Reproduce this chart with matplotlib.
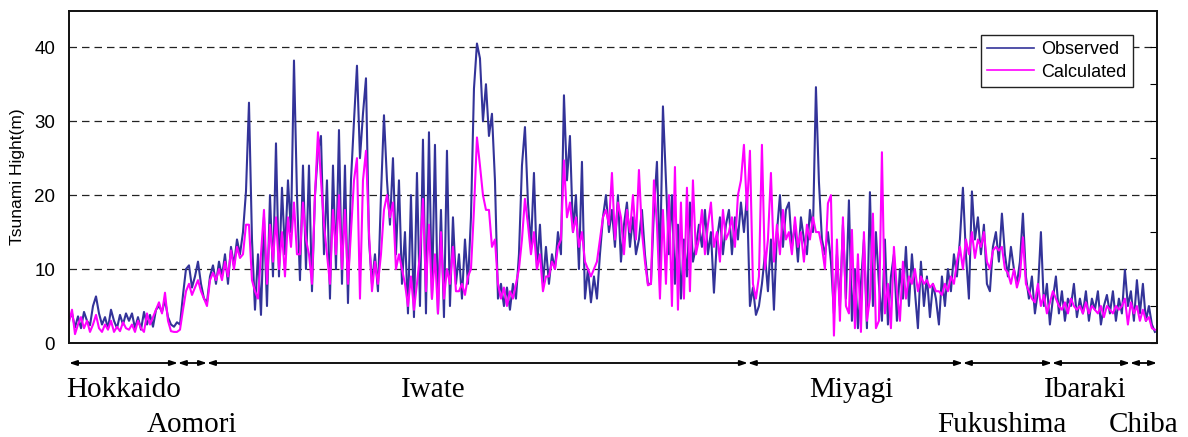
import matplotlib
matplotlib.use("Agg")
import matplotlib.pyplot as plt
import matplotlib.transforms as mtransforms
import numpy as np

# ---------------- data ----------------
observed = [
    3.2, 4.0, 2.1, 3.6, 2.0, 4.2, 3.0, 2.4, 5.0, 6.3,
    4.0, 2.5, 3.5, 2.0, 4.5, 3.0, 2.0, 3.8, 2.5, 4.0,
    3.0, 4.0, 2.0, 3.5, 1.8, 4.2, 2.5, 3.8, 2.2, 4.5,
    5.0, 4.2, 5.8, 3.5, 2.5, 2.2, 2.8, 2.5, 6.5, 10.0,
    10.5, 7.5, 9.0, 11.0, 8.0, 6.0, 5.5, 9.0, 10.5, 8.0,
    11.0, 9.0, 12.0, 8.0, 13.0, 10.5, 14.0, 12.0, 15.0, 20.5,
    32.5, 14.0, 4.5, 12.0, 3.8, 17.0, 5.0, 20.0, 9.0, 27.0,
    9.0, 21.0, 12.0, 22.0, 15.0, 38.2, 20.0, 8.5, 24.0, 10.0,
    24.0, 7.0, 20.0, 26.0, 28.0, 12.0, 22.0, 6.0, 24.0, 10.0,
    28.8, 8.0, 24.0, 5.4, 22.0, 30.0, 37.5, 25.0, 31.0, 35.8,
    14.0, 8.0, 12.0, 7.0, 20.0, 30.8, 22.0, 16.0, 25.0, 12.0,
    22.0, 8.0, 15.0, 4.0, 20.0, 3.5, 23.0, 5.0, 27.5, 4.0,
    28.5, 6.0, 26.8, 4.0, 18.0, 3.5, 26.0, 5.0, 17.0, 8.0,
    12.0, 6.0, 14.0, 8.0, 17.0, 34.4, 40.5, 38.5, 30.0, 35.0,
    28.0, 31.0, 22.0, 6.0, 8.0, 5.0, 7.5, 4.5, 8.0, 6.0,
    12.0, 24.0, 29.2, 19.0, 13.0, 23.0, 10.0, 16.0, 8.0, 13.0,
    8.0, 12.0, 10.0, 15.0, 12.0, 33.5, 22.0, 28.0, 15.0, 20.0,
    10.0, 24.5, 6.0, 10.0, 5.5, 9.0, 6.0, 12.0, 17.0, 20.0,
    15.0, 18.0, 13.0, 20.0, 11.0, 16.0, 19.0, 13.0, 17.0, 12.0,
    14.0, 18.0, 12.0, 8.0, 8.0, 18.0, 24.5, 10.0, 32.0, 22.0,
    12.0, 20.0, 8.0, 16.0, 6.0, 14.0, 9.0, 19.0, 11.0, 13.0,
    16.0, 13.0, 18.0, 12.0, 15.0, 6.8, 14.0, 17.0, 12.0, 16.0,
    18.0, 12.0, 17.0, 14.0, 19.0, 15.0, 20.0, 5.0, 7.5, 3.8,
    5.0, 8.0, 12.0, 7.0, 14.0, 4.5, 15.0, 20.0, 13.0, 18.0,
    19.0, 13.0, 16.0, 11.0, 17.0, 14.0, 12.0, 18.0, 15.0, 34.6,
    21.8, 14.0, 12.0, 15.0, 11.0, 4.0, 12.0, 5.0, 16.0, 6.0,
    19.3, 3.0, 10.0, 2.0, 8.0, 14.0, 2.0, 20.4, 5.0, 15.0,
    8.0, 3.0, 14.0, 2.5, 9.0, 12.0, 3.0, 10.0, 6.0, 13.0,
    5.0, 12.0, 7.0, 2.0, 11.0, 5.0, 9.0, 3.5, 8.0, 6.0,
    2.5, 9.0, 5.0, 10.0, 7.0, 12.0, 9.0, 14.0, 21.0, 12.0,
    6.0, 20.5, 14.0, 17.0, 12.0, 16.0, 8.0, 7.0, 13.0, 15.0,
    11.0, 17.5, 12.0, 9.0, 13.0, 10.0, 8.0, 11.0, 17.5, 9.0,
    6.0, 9.0, 4.0, 7.0, 15.0, 5.0, 8.0, 2.5, 6.0, 9.0,
    4.0, 7.0, 3.0, 6.0, 5.0, 8.0, 3.5, 6.0, 4.0, 7.0,
    3.0, 6.0, 4.5, 7.0, 2.5, 5.0, 6.5, 4.0, 7.0, 3.0,
    6.0, 4.0, 9.9, 5.0, 7.0, 3.0, 8.5, 4.0, 8.0, 3.0,
    5.0, 2.5, 1.5,
]

calculated = [
    2.8, 4.5, 1.2, 2.5, 3.5, 2.0, 3.0, 1.5, 2.5, 3.8,
    2.0, 1.5, 2.5, 1.8, 3.0, 1.5, 2.2, 1.6, 2.8, 2.0,
    1.8, 2.5, 1.5, 3.0, 2.0, 1.5, 4.0, 2.5, 3.5, 4.5,
    5.5, 4.0, 6.8, 3.0, 1.6, 1.5, 1.5, 1.8, 4.5, 7.0,
    8.0, 6.5, 7.5, 8.5, 7.0, 6.0, 5.0, 8.5, 9.5, 8.5,
    10.0, 8.5, 11.0, 9.0, 12.5, 10.0, 13.0, 11.5, 12.0, 16.0,
    16.0, 8.5, 7.0, 6.0, 12.0, 18.0, 8.0, 16.0, 11.0, 17.0,
    10.0, 15.0, 9.0, 17.0, 13.0, 19.0, 12.0, 12.0, 19.0, 14.0,
    12.0, 8.0, 20.0, 28.5, 22.0, 16.0, 12.0, 8.0, 18.0, 12.0,
    20.0, 10.0, 18.0, 8.0, 15.0, 22.0, 25.0, 6.0, 22.0, 26.0,
    15.0, 7.0, 11.0, 8.0, 12.0, 18.0, 20.0, 17.0, 19.0, 10.0,
    12.0, 10.0, 8.0, 5.0, 9.0, 4.5, 8.0, 12.0, 19.5, 7.0,
    16.0, 6.0, 12.0, 4.0, 15.0, 6.0, 10.0, 8.0, 13.0, 7.0,
    7.0, 8.0, 6.5, 9.0, 10.0, 18.0, 27.8, 24.0, 20.0, 18.0,
    18.0, 13.0, 14.0, 8.0, 6.0, 7.5, 5.0, 7.0, 6.0, 8.0,
    10.0, 14.0, 19.5, 16.0, 12.0, 15.0, 10.0, 12.0, 7.0, 9.0,
    9.0, 11.0, 10.0, 13.0, 14.0, 24.7, 17.0, 19.0, 15.0, 17.0,
    13.0, 15.0, 11.0, 10.0, 9.0, 10.0, 11.0, 14.0, 17.0, 18.0,
    16.0, 23.0, 14.0, 19.0, 17.0, 12.0, 18.0, 15.0, 20.0, 14.0,
    23.4, 15.0, 11.0, 7.8, 8.0, 22.0, 16.0, 6.0, 18.0, 8.0,
    20.0, 5.0, 23.8, 4.5, 19.0, 6.0, 21.0, 7.0, 22.0, 12.0,
    14.0, 18.0, 12.0, 16.0, 19.0, 13.0, 15.0, 11.0, 18.0, 14.0,
    15.0, 17.0, 13.0, 20.0, 22.0, 26.8, 18.0, 26.0, 8.0, 6.0,
    9.0, 26.8, 10.0, 14.0, 23.0, 11.0, 16.0, 12.0, 18.0, 14.0,
    15.0, 12.0, 17.0, 13.0, 15.0, 11.0, 16.0, 14.0, 17.0, 15.0,
    15.0, 13.0, 10.0, 18.9, 20.0, 1.0, 14.0, 3.0, 17.0, 5.0,
    4.0, 15.3, 2.0, 12.0, 1.5, 15.0, 3.0, 6.0, 17.5, 2.0,
    3.0, 25.8, 4.0, 8.0, 2.0, 13.0, 7.0, 3.0, 11.0, 6.0,
    9.0, 8.0, 10.0, 7.0, 9.0, 8.0, 8.5, 7.5, 8.0, 7.0,
    7.0, 6.5, 8.0, 7.0, 9.0, 8.0, 11.0, 13.0, 10.0, 14.0,
    12.0, 15.0, 11.5, 14.0, 13.0, 15.0, 11.0, 10.0, 12.5, 13.0,
    12.5, 13.0, 10.0, 9.5, 8.0, 10.0, 7.5, 9.0, 14.3, 8.0,
    7.0, 6.0, 5.5, 8.0, 5.0, 6.5, 4.0, 5.5, 7.0, 6.0,
    5.0, 4.5, 5.5, 4.0, 6.0, 5.0, 4.5, 5.0, 4.0, 5.5,
    4.0, 5.0, 4.5, 4.0, 5.0, 3.5, 5.0, 4.5, 4.0, 5.0,
    4.5, 5.0, 6.0, 2.5, 5.5, 4.0, 5.0, 3.0, 4.5, 3.0,
    3.5, 2.0, 1.8,
]

series_names = ["Observed", "Calculated"]
series_colors = ["#333399", "#FF00FF"]

# prefecture boundaries (in sample-index units) and names
region_names = ["Hokkaido", "Aomori", "Iwate", "Miyagi", "Fukushima", "Ibaraki", "Chiba"]
region_bounds = [0, 36.3, 46.0, 226.3, 298.0, 327.7, 353.7, 362.7]
region_row = [0, 1, 0, 0, 1, 0, 1]          # upper / lower label row
region_label_shift = [0, 0, -14.7, -1.3, -2, -2, 0]   # layout tweak of label centre

y_ticks = [0, 10, 20, 30, 40]

# ---------------- figure ----------------
W, H, DPI = 1188, 437, 100
fig = plt.figure(figsize=(W / DPI, H / DPI), dpi=DPI)
ax = fig.add_axes([69 / W, 1 - 343 / H, (1157 - 69) / W, (343 - 11) / H])

x = np.arange(len(observed))
for vals, name, col in zip([observed, calculated], series_names, series_colors):
    ax.plot(x, vals, color=col, lw=1.5, label=name)

ax.set_xlim(0, region_bounds[-1])
ax.set_ylim(0, 44.9)
ax.set_yticks(y_ticks)
ax.set_yticks([5, 15, 25, 35], minor=True)
ax.set_xticks([])
for t in y_ticks[1:]:
    ax.axhline(t, color="#222222", lw=0.9, ls=(0, (6, 4)), zorder=0.5)

ax.tick_params(axis="y", which="both", left=False, right=True, direction="in",
               length=5, width=0.8, labelleft=True, pad=10, labelsize=13.5)
for lab in ax.get_yticklabels():
    lab.set_fontfamily("Liberation Sans")
for sp in ax.spines.values():
    sp.set_linewidth(1.4)
    sp.set_color("#111111")

ax.set_ylabel("Tsunami Hight(m)", fontsize=12.5, family="Liberation Sans")
ax.yaxis.set_label_coords(-0.040, 0.5)

leg = ax.legend(loc="upper right", bbox_to_anchor=(1133 / W, 1 - 35 / H),
                bbox_transform=fig.transFigure, frameon=True, fancybox=False,
                framealpha=1.0, facecolor="white",
                prop={"family": "Liberation Sans", "size": 13},
                handlelength=2.6, handletextpad=0.4, borderpad=0.35,
                labelspacing=0.3, borderaxespad=0)
leg.get_frame().set_edgecolor("#222222")
leg.get_frame().set_linewidth(1.0)
for ln in leg.get_lines():
    ln.set_linewidth(1.2)

# region arrows and labels
trans = mtransforms.blended_transform_factory(ax.transData, fig.transFigure)
arrow_y = 1 - 363 / H
row_y = [1 - 390 / H, 1 - 425 / H]
for i, name in enumerate(region_names):
    a, b = region_bounds[i], region_bounds[i + 1]
    ax.annotate("", xy=(b, arrow_y), xytext=(a, arrow_y), xycoords=trans,
                textcoords=trans, annotation_clip=False,
                arrowprops=dict(arrowstyle="<|-|>,head_length=0.45,head_width=0.15",
                                color="black", lw=1.3, shrinkA=0, shrinkB=0))
    ax.text((a + b) / 2 + region_label_shift[i], row_y[region_row[i]], name,
            transform=trans, ha="center", va="center", fontsize=21,
            family="Liberation Serif", color="black")

fig.savefig("out.png", dpi=DPI)
